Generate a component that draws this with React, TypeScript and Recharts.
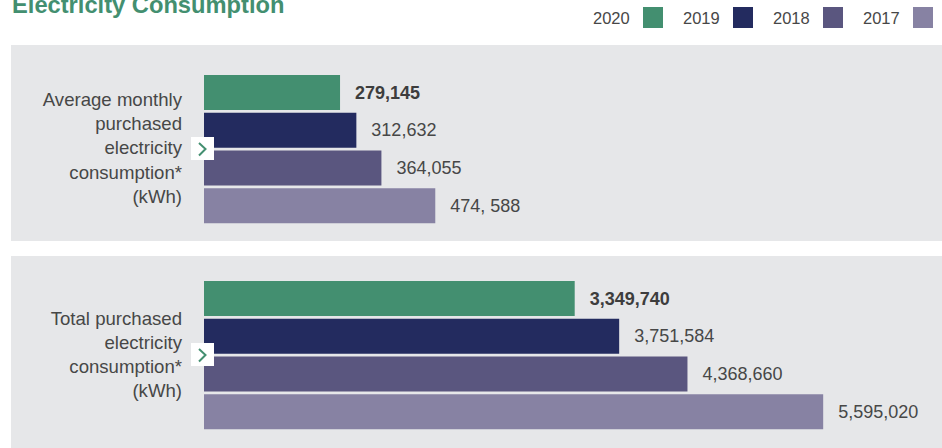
import React from 'react';
import { BarChart, Bar, XAxis, YAxis, Cell, LabelList } from 'recharts';

const years = ['2020', '2019', '2018', '2017'];
const yearColors = ['#438f70', '#232b5f', '#5a567f', '#8782a3'];

const avgMonthly = [279145, 312632, 364055, 474588];
const avgMonthlyLabels = ['279,145', '312,632', '364,055', '474, 588'];

const totalConsumption = [3349740, 3751584, 4368660, 5595020];
const totalLabels = ['3,349,740', '3,751,584', '4,368,660', '5,595,020'];

const avgTitleLines = ['Average monthly', 'purchased', 'electricity', 'consumption*', '(kWh)'];
const totalTitleLines = ['Total purchased', 'electricity', 'consumption*', '(kWh)'];

const FONT = '"Liberation Sans", Arial, Helvetica, sans-serif';
const TEXT = '#474747';
const PANEL_BG = '#e6e7e9';

function ValueLabel(props: any) {
  const { x, y, width, height, value, boldValue } = props;
  const bold = value === boldValue;
  return (
    <text
      x={Number(x) + Number(width) + 15}
      y={Number(y) + Number(height) / 2}
      dominantBaseline="central"
      fontFamily={FONT}
      fontSize={18}
      fontWeight={bold ? 700 : 400}
      fill={bold ? '#3d3d3d' : TEXT}
    >
      {value}
    </text>
  );
}

function Arrow({ top }: { top: number }) {
  return (
    <div style={{ position: 'absolute', left: 191, top, width: 23, height: 23, background: '#fff' }}>
      <svg width={23} height={23}>
        <polyline points="8,6 14.5,12 8,18.5" fill="none" stroke="#438f70" strokeWidth={2} />
      </svg>
    </div>
  );
}

function RowTitle({ lines, center }: { lines: string[]; center: number }) {
  const lh = 24.2;
  return (
    <div
      style={{
        position: 'absolute',
        left: 0,
        width: 182,
        top: center - (lines.length * lh) / 2,
        textAlign: 'right',
        fontFamily: FONT,
        fontSize: 18.6,
        lineHeight: `${lh}px`,
        color: TEXT,
      }}
    >
      {lines.map((l) => (
        <div key={l}>{l}</div>
      ))}
    </div>
  );
}

function Panel({
  values,
  labels,
  max,
  top,
  height,
  margin,
}: {
  values: number[];
  labels: string[];
  max: number;
  top: number;
  height: number;
  margin: { top: number; bottom: number; left: number; right: number };
}) {
  const data = years.map((y, i) => ({ year: y, value: values[i], label: labels[i] }));
  return (
    <div style={{ position: 'absolute', left: 0, top }}>
      <BarChart width={942} height={height} data={data} layout="vertical" margin={margin}>
        <XAxis type="number" domain={[0, max]} hide />
        <YAxis type="category" dataKey="year" hide />
        <Bar dataKey="value" barSize={35} isAnimationActive={false}>
          {data.map((d, i) => (
            <Cell key={d.year} fill={yearColors[i]} />
          ))}
          <LabelList dataKey="label" content={(p: any) => <ValueLabel {...p} boldValue={labels[0]} />} />
        </Bar>
      </BarChart>
    </div>
  );
}

export default function App() {
  return (
    <div
      style={{
        position: 'absolute',
        left: 0,
        top: 0,
        width: 942,
        height: 448,
        overflow: 'hidden',
        background: '#fff',
        fontFamily: FONT,
      }}
    >
      <svg width={942} height={40} style={{ position: 'absolute', left: 0, top: 0 }}>
        <text x={12} y={13} fontFamily={FONT} fontSize={23.7} fontWeight={700} fill="#438f70">
          Electricity Consumption
        </text>
        {years.map((y, i) => {
          const x0 = 593 + i * 90;
          return (
            <g key={y}>
              <text x={x0} y={24} fontFamily={FONT} fontSize={16.5} fill={TEXT}>
                {y}
              </text>
              <rect x={x0 + 50} y={7} width={20} height={21} fill={yearColors[i]} />
            </g>
          );
        })}
      </svg>

      <div style={{ position: 'absolute', left: 11, top: 45, width: 931, height: 196, background: PANEL_BG }} />
      <div style={{ position: 'absolute', left: 11, top: 256, width: 931, height: 192, background: PANEL_BG }} />

      <Panel
        values={avgMonthly}
        labels={avgMonthlyLabels}
        max={1500000}
        top={45}
        height={196}
        margin={{ top: 29, bottom: 16, left: 204, right: 7 }}
      />
      <Panel
        values={totalConsumption}
        labels={totalLabels}
        max={6000000}
        top={256}
        height={192}
        margin={{ top: 24, bottom: 17, left: 204, right: 74 }}
      />

      <RowTitle lines={avgTitleLines} center={148.5} />
      <RowTitle lines={totalTitleLines} center={355} />

      <Arrow top={137} />
      <Arrow top={343} />
    </div>
  );
}
